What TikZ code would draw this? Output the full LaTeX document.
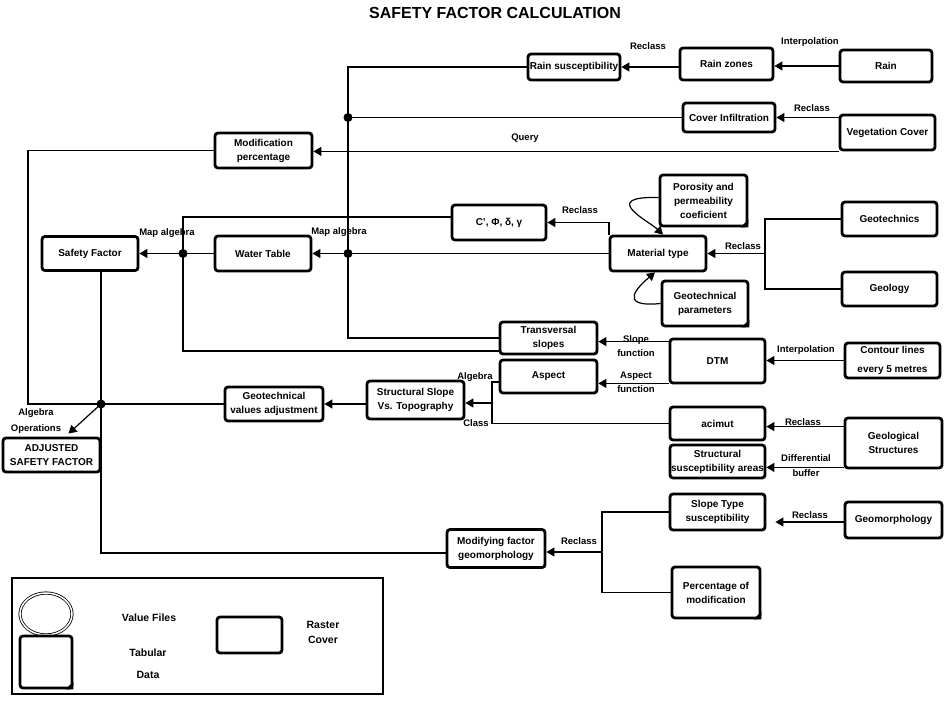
\documentclass[tikz,border=0pt]{standalone}
\usepackage{fontspec}
\setmainfont{Liberation Sans}
\usetikzlibrary{arrows.meta,calc,shapes.geometric}
\begin{document}
\begin{tikzpicture}[x=1pt,y=-1pt,
  box/.style={draw, line width=2.8pt, rounded corners=3pt, fill=white, align=center, inner sep=1pt, font=\fontsize{10}{14}\selectfont\bfseries},
  lbl/.style={font=\fontsize{9.5}{13}\selectfont\bfseries, inner sep=0pt, align=center},
  arr/.style={-{Triangle[length=8pt,width=9pt]}},
  conn/.style={line width=1.2pt}]
\useasboundingbox (0,0) rectangle (947,701);
\node[font=\fontsize{16}{18}\selectfont\bfseries] (title) at (495,13) {SAFETY FACTOR CALCULATION};
% boxes
\node[box, minimum width=92, minimum height=26] (rainsus) at (574,67) {Rain susceptibility};
\node[box, minimum width=93, minimum height=32] (rainz) at (726.5,64) {Rain zones};
\node[box, minimum width=92, minimum height=32] (rain) at (886,66) {Rain};
\node[box, minimum width=92, minimum height=29] (coverinf) at (729,117.5) {Cover Infiltration};
\node[box, minimum width=95, minimum height=35] (veg) at (887.5,132.5) {Vegetation Cover};
\node[box, minimum width=97, minimum height=35] (modpct) at (263.5,150.5) {Modification\\percentage};
\node[box, minimum width=96, minimum height=34] (safety) at (90,253.5) {Safety Factor};
\node[box, minimum width=96, minimum height=35] (water) at (263,253.5) {Water Table};
\node[box, minimum width=94, minimum height=35] (cphi) at (499,222.5) {C', Φ, δ, γ};
\node[box, minimum width=96, minimum height=35] (mat) at (658,253.5) {Material type};
\node[box, minimum width=87, minimum height=51] (poros) at (703.5,200.5) {Porosity and\\permeability\\coeficient};
\node[box, minimum width=86, minimum height=45] (geopar) at (705,303.5) {Geotechnical\\parameters};
\node[box, minimum width=95, minimum height=34] (geotech) at (889.5,219) {Geotechnics};
\node[box, minimum width=95, minimum height=34] (geology) at (889.5,289) {Geology};
\node[box, minimum width=97, minimum height=32] (transv) at (548.5,338) {Transversal\\slopes};
\node[box, minimum width=97, minimum height=33] (aspect) at (548.5,376.5) {Aspect};
\node[box, minimum width=95, minimum height=44] (dtm) at (717.5,361) {DTM};
\node[box, minimum width=95, minimum height=35, font=\fontsize{10}{19}\selectfont\bfseries] (contour) at (892.5,360.5) {Contour lines\\every 5 metres};
\node[box, minimum width=97, minimum height=38] (ssvt) at (415.5,400) {Structural Slope\\Vs. Topography};
\node[box, minimum width=98, minimum height=34] (gva) at (274,404) {Geotechnical\\values adjustment};
\node[box, minimum width=97, minimum height=34] (adj) at (51.5,455) {ADJUSTED\\SAFETY FACTOR};
\node[box, minimum width=95, minimum height=33] (acimut) at (717.5,423.5) {acimut};
\node[box, minimum width=95, minimum height=33] (strsus) at (717.5,461.5) {Structural\\susceptibility areas};
\node[box, minimum width=97, minimum height=50] (geostr) at (893.5,443) {Geological\\Structures};
\node[box, minimum width=95, minimum height=36] (slopetype) at (717.5,512) {Slope Type\\susceptibility};
\node[box, minimum width=97, minimum height=36] (geomorph) at (893.5,520) {Geomorphology};
\node[box, minimum width=88, minimum height=51] (pctmod) at (716,592.5) {Percentage of\\modification};
\node[box, minimum width=98, minimum height=38] (modfac) at (496,548.5) {Modifying factor\\geomorphology};
% folded corners of tabular data
\foreach \n in {poros,geopar,pctmod} {\fill (\n.south east) -- ++(-8,0) -- ++(8,-8) -- cycle;}
% junction coordinates
\coordinate (jt) at (348,67);
\coordinate (dD) at (348,117.5);
\coordinate (dC) at (348,253.5);
\coordinate (jb) at (348,338);
\coordinate (c1) at (183,217);
\coordinate (dB) at (183,253.5);
\coordinate (c2) at (183,351);
\coordinate (q1) at (28,150.5);
\coordinate (q2) at (28,404);
\coordinate (dA) at (101,404);
\coordinate (m1) at (101,553);
\coordinate (c5) at (609,222.5);
\coordinate (g6) at (765,219);
\coordinate (g7) at (765,289);
\coordinate (g8) at (765,253.5);
\coordinate (a1) at (492,382);
\coordinate (a2) at (492,423.5);
\coordinate (a3) at (492,403);
\coordinate (b1) at (602,512);
\coordinate (b2) at (602,592.5);
\coordinate (b3) at (602,552);
% connectors
\draw[conn,arr] (rain.west) -- (rain.west -| rainz.east);
\draw[conn,arr] (rainz.west |- rainsus.east) -- (rainsus.east);
\draw[conn] (rainsus.west) -- (jt) -- (jb) -- (transv.west);
\draw[conn,arr] (veg.west |- coverinf.east) -- (coverinf.east);
\draw[conn] (coverinf.west) -- (dD);
\draw[conn,arr] (veg.south west) -- (veg.south west -| modpct.east);
\draw[conn] (modpct.west) -- (q1) -- (q2) -- (dA);
\draw[conn] (safety.south -| dA) -- (m1) -- (m1 -| modfac.west);
\draw[conn,arr] (dA) -- ($(adj.north)+(17,-3)$);
\draw[conn] (gva.west) -- (dA);
\draw[conn,arr] (ssvt.west |- gva.east) -- (gva.east);
\draw[conn,arr] (dB) -- (safety.east);
\draw[conn] (water.west) -- (dB);
\draw[conn] (cphi.west |- c1) -- (c1) -- (c2) -- (c2 -| transv.west);
\draw[conn,arr] (dC) -- (water.east);
\draw[conn] (mat.west) -- (dC);
\draw[conn,arr] (mat.north -| c5) -- (c5) -- (cphi.east |- c5);
\draw[conn,arr] ($(poros.west)+(0,-3)$) .. controls (598,196) and (650,222) .. ($(mat.north)+(5,0)$);
\draw[conn,arr] (geopar.west) .. controls (615,308) and (640,285) .. ($(mat.south)+(-3,0)$);
\draw[conn] (geotech.west) -- (g6) -- (g7) -- (geology.west);
\draw[conn,arr] (g8) -- (mat.east);
\path ($(dtm.north west)+(0,4)$) coordinate (s1);
\draw[conn,arr] (s1) -- (s1 -| transv.east);
\path ($(dtm.south west)+(0,-1)$) coordinate (s2);
\draw[conn,arr] (s2) -- (s2 -| aspect.east);
\draw[conn,arr] (contour.west) -- (contour.west -| dtm.east);
\draw[conn] (aspect.west |- a1) -- (a1) -- (a2) -- (acimut.west);
\draw[conn,arr] (a3) -- (a3 -| ssvt.east);
\path ($(geostr.north west)+(0,10)$) coordinate (g1);
\draw[conn,arr] (g1) -- (g1 -| acimut.east);
\path ($(geostr.south west)+(0,-2)$) coordinate (g2);
\draw[conn,arr] (g2) -- (g2 -| strsus.east);
\draw[conn,arr] ($(geomorph.west)+(0,2)$) -- ($(geomorph.west -| slopetype.east)+(9,2)$);
\draw[conn] (slopetype.west) -- (b1) -- (b2) -- (pctmod.west);
\draw[conn,arr] (b3) -- (b3 -| modfac.east);
% junction dots
\foreach \d in {dA,dB,dC,dD} {\fill (\d) circle[radius=4.5pt];}
% labels
\node[lbl] (l1) at (648,46) {Reclass};
\node[lbl] (l2) at (810,42) {Interpolation};
\node[lbl] (l3) at (812,108) {Reclass};
\node[lbl] (l4) at (525,138) {Query};
\node[lbl] (l5) at (167,233) {Map algebra};
\node[lbl] (l6) at (339,232) {Map algebra};
\node[lbl] (l7) at (580,210) {Reclass};
\node[lbl] (l8) at (743,246) {Reclass};
\node[lbl, font=\fontsize{9.5}{14}\selectfont\bfseries] (l9) at (636,346) {Slope\\function};
\node[lbl, font=\fontsize{9.5}{14}\selectfont\bfseries] (l10) at (636,382) {Aspect\\function};
\node[lbl] (l11) at (806,350) {Interpolation};
\node[lbl] (l12) at (475,377) {Algebra};
\node[lbl] (l13) at (476,423) {Class};
\node[lbl] (l14) at (803,422) {Reclass};
\node[lbl, font=\fontsize{9.5}{15}\selectfont\bfseries] (l15) at (806,466) {Differential\\buffer};
\node[lbl] (l16) at (810,515) {Reclass};
\node[lbl] (l17) at (579,541) {Reclass};
\node[lbl, font=\fontsize{9.5}{15.5}\selectfont\bfseries] (l18) at (36,421) {Algebra\\Operations};
% legend
\node[draw, line width=2.4pt, minimum width=371, minimum height=116, inner sep=0pt] (legend) at (197.5,636) {};
\node[draw, ellipse, double, line width=0.8pt, double distance=1.5pt, minimum width=52, minimum height=42, inner sep=0pt] (legval) at (46,614) {};
\node[box, minimum width=52, minimum height=52] (legtab) at (46,662) {};
\fill (legtab.south east) -- ++(-8,0) -- ++(8,-8) -- cycle;
\node[box, minimum width=65, minimum height=36] (legras) at (249.5,635) {};
\node[lbl, font=\fontsize{10.5}{14}\selectfont\bfseries] (lv) at (149,618) {Value Files};
\node[lbl, font=\fontsize{10.5}{22}\selectfont\bfseries] (lt) at (148,664) {Tabular\\Data};
\node[lbl, font=\fontsize{10.5}{15}\selectfont\bfseries] (lr) at (323,632) {Raster\\Cover};
\end{tikzpicture}
\end{document}
